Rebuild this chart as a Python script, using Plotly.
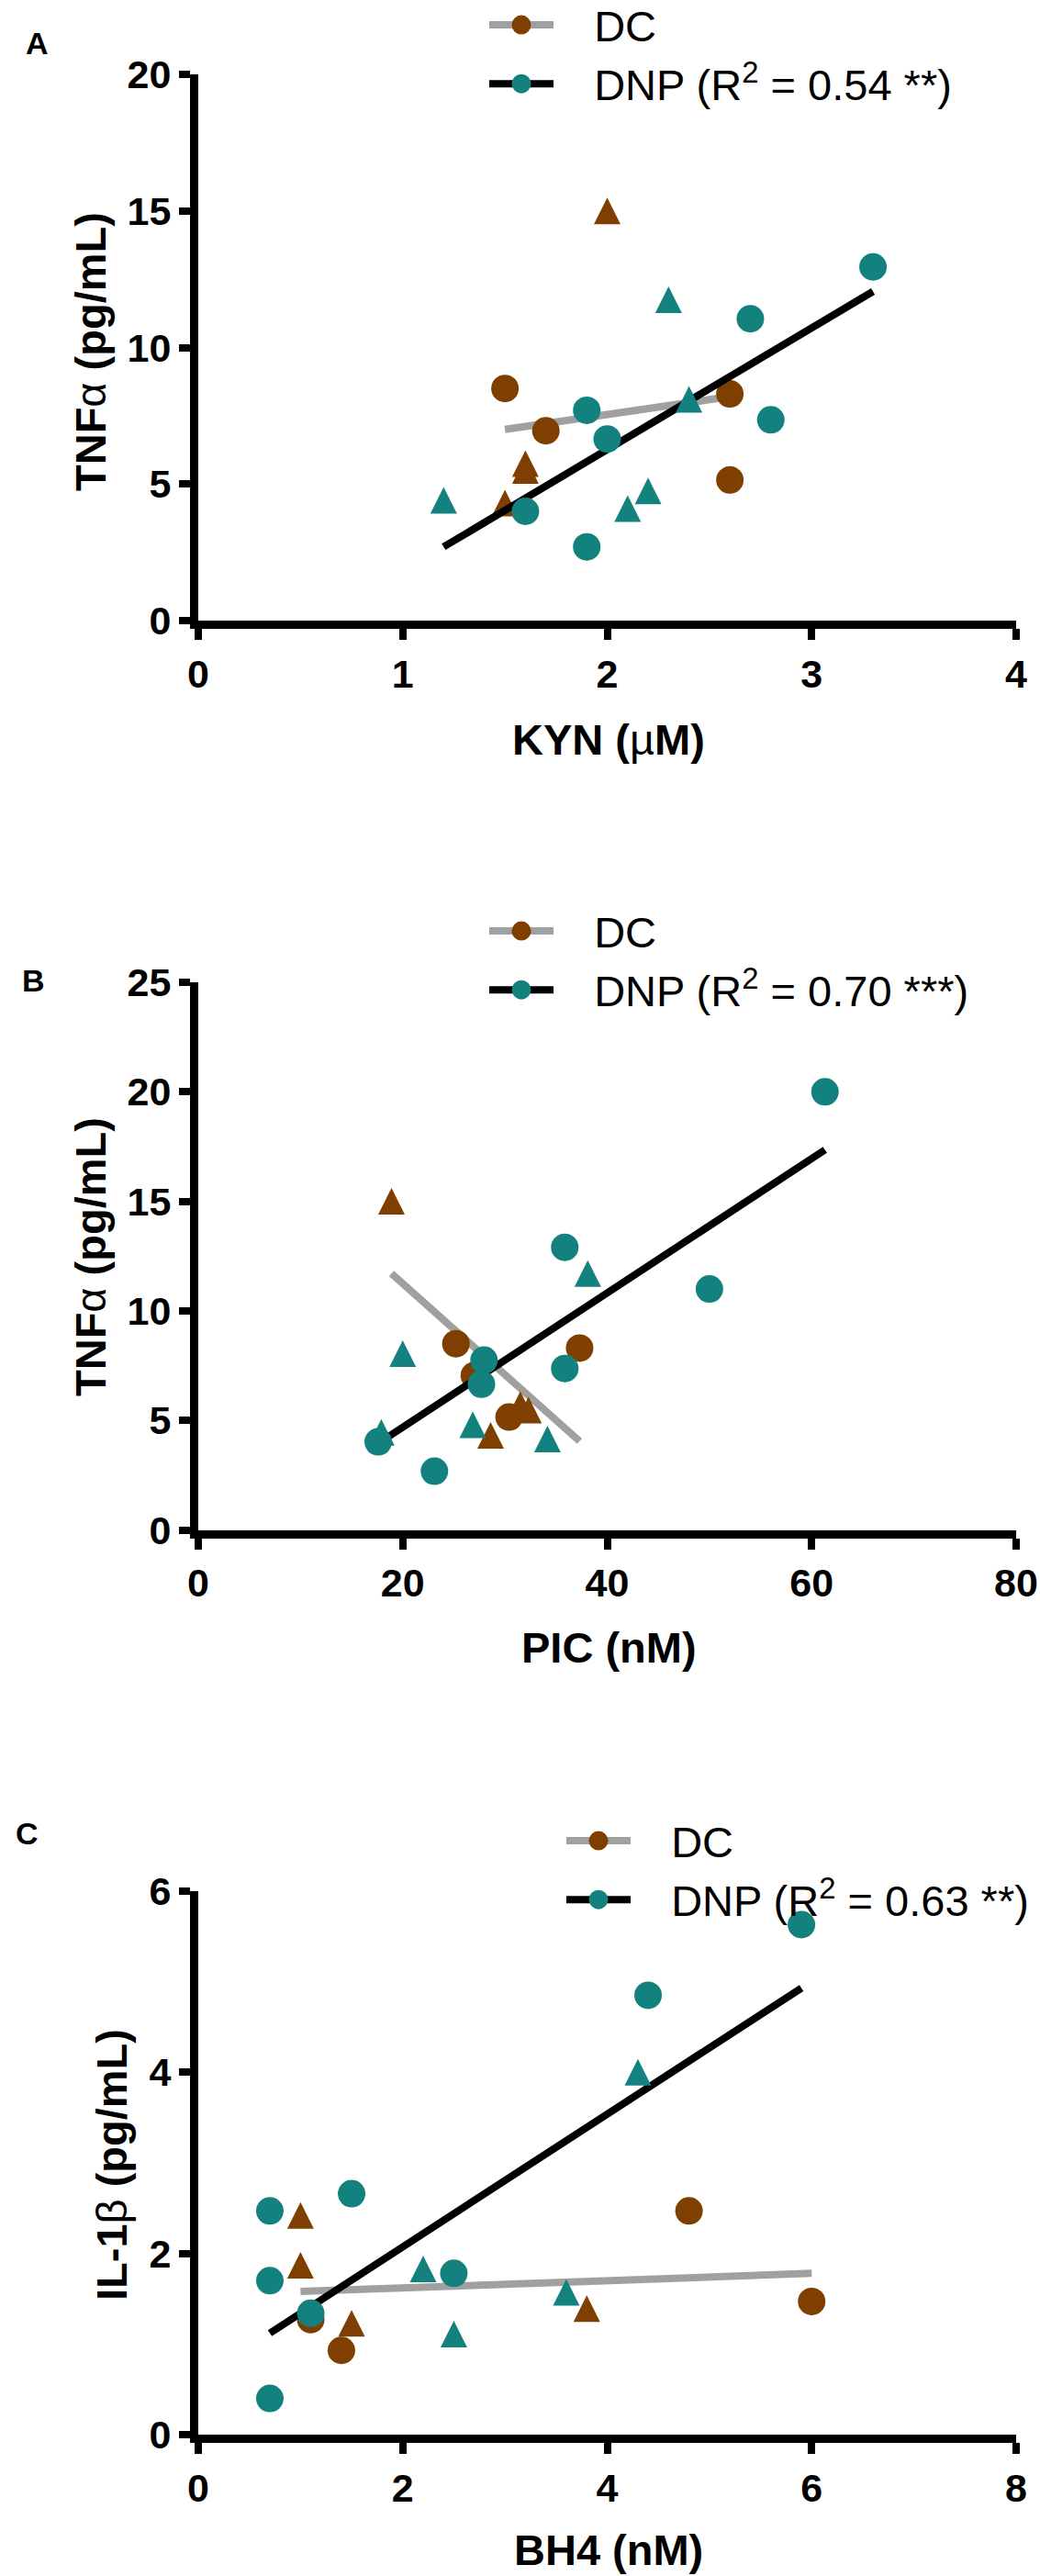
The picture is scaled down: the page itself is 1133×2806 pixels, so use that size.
import plotly.graph_objects as go

W, H = 1133, 2806

BROWN = "#7F3F00"
TEAL = "#13827F"
GREY = "#A0A0A0"
FONT = "Liberation Sans, Arial, sans-serif"

# Panel A: TNFa vs KYN
kyn_dc_circ_x = [1.5, 1.7, 2.6, 2.6]
kyn_dc_circ_y = [8.5, 6.95, 8.3, 5.15]
kyn_dc_tri_x = [2.0, 1.6, 1.6, 1.5]
kyn_dc_tri_y = [15.0, 5.75, 5.5, 4.3]
kyn_dnp_circ_x = [3.3, 2.7, 1.9, 2.0, 2.8, 1.6, 1.9]
kyn_dnp_circ_y = [12.95, 11.05, 7.7, 6.65, 7.35, 4.0, 2.7]
kyn_dnp_tri_x = [2.3, 2.4, 1.2, 2.1, 2.2]
kyn_dnp_tri_y = [11.75, 8.1, 4.4, 4.1, 4.75]
kyn_dc_fit_x = [1.5, 2.6]
kyn_dc_fit_y = [7.0, 8.2]
kyn_dnp_fit_x = [1.2, 3.3]
kyn_dnp_fit_y = [2.7, 12.05]

# Panel B: TNFa vs PIC
pic_dc_circ_x = [25.2, 27.0, 37.3, 30.4]
pic_dc_circ_y = [8.5, 7.05, 8.3, 5.15]
pic_dc_tri_x = [18.9, 31.5, 32.3, 28.6]
pic_dc_tri_y = [15.0, 5.72, 5.47, 4.32]
pic_dnp_circ_x = [61.3, 35.85, 50.0, 35.85, 27.95, 27.7, 17.6, 23.1]
pic_dnp_circ_y = [20.0, 12.9, 11.0, 7.37, 7.75, 6.65, 4.02, 2.68]
pic_dnp_tri_x = [38.1, 20.0, 26.85, 34.15, 17.9]
pic_dnp_tri_y = [11.7, 8.05, 4.8, 4.15, 4.45]
pic_dc_fit_x = [18.9, 37.3]
pic_dc_fit_y = [11.7, 4.05]
pic_dnp_fit_x = [17.6, 61.3]
pic_dnp_fit_y = [3.95, 17.35]

# Panel C: IL-1b vs BH4
bh4_dc_circ_x = [4.8, 6.0, 1.4, 1.1]
bh4_dc_circ_y = [2.47, 1.47, 0.93, 1.27]
bh4_dc_tri_x = [1.0, 1.0, 1.5, 3.8]
bh4_dc_tri_y = [2.42, 1.87, 1.23, 1.39]
bh4_dnp_circ_x = [5.9, 4.4, 1.5, 0.7, 0.7, 2.5, 1.1, 0.7]
bh4_dnp_circ_y = [5.63, 4.85, 2.66, 2.47, 1.70, 1.78, 1.34, 0.40]
bh4_dnp_tri_x = [4.3, 2.2, 3.6, 2.5]
bh4_dnp_tri_y = [4.0, 1.83, 1.57, 1.11]
bh4_dc_fit_x = [1.0, 6.0]
bh4_dc_fit_y = [1.58, 1.78]
bh4_dnp_fit_x = [0.7, 5.9]
bh4_dnp_fit_y = [1.12, 4.93]

panels = [
    dict(
        letter="A", r2="0.54 **",
        dc_circ=(kyn_dc_circ_x, kyn_dc_circ_y), dc_tri=(kyn_dc_tri_x, kyn_dc_tri_y),
        dnp_circ=(kyn_dnp_circ_x, kyn_dnp_circ_y), dnp_tri=(kyn_dnp_tri_x, kyn_dnp_tri_y),
        dc_fit=(kyn_dc_fit_x, kyn_dc_fit_y), dnp_fit=(kyn_dnp_fit_x, kyn_dnp_fit_y),
        xrange=[0, 4], xdtick=1, yrange=[0, 20], ydtick=5,
        xtitle="KYN (<span style='font-weight:normal'>µ</span>M)",
        ytitle="TNF<span style='font-weight:normal'>α</span> (pg/mL)",
        ybot=676, ytop=81, letter_pos=(40, 47), xtitle_y=805, ytitle_pos=(98, 383),
        legend_pos=(528, -10),
    ),
    dict(
        letter="B", r2="0.70 ***",
        dc_circ=(pic_dc_circ_x, pic_dc_circ_y), dc_tri=(pic_dc_tri_x, pic_dc_tri_y),
        dnp_circ=(pic_dnp_circ_x, pic_dnp_circ_y), dnp_tri=(pic_dnp_tri_x, pic_dnp_tri_y),
        dc_fit=(pic_dc_fit_x, pic_dc_fit_y), dnp_fit=(pic_dnp_fit_x, pic_dnp_fit_y),
        xrange=[0, 80], xdtick=20, yrange=[0, 25], ydtick=5,
        xtitle="PIC (nM)",
        ytitle="TNF<span style='font-weight:normal'>α</span> (pg/mL)",
        ybot=1666.5, ytop=1070, letter_pos=(36, 1068), xtitle_y=1794, ytitle_pos=(98, 1369),
        legend_pos=(528, 977),
    ),
    dict(
        letter="C", r2="0.63 **",
        dc_circ=(bh4_dc_circ_x, bh4_dc_circ_y), dc_tri=(bh4_dc_tri_x, bh4_dc_tri_y),
        dnp_circ=(bh4_dnp_circ_x, bh4_dnp_circ_y), dnp_tri=(bh4_dnp_tri_x, bh4_dnp_tri_y),
        dc_fit=(bh4_dc_fit_x, bh4_dc_fit_y), dnp_fit=(bh4_dnp_fit_x, bh4_dnp_fit_y),
        xrange=[0, 8], xdtick=2, yrange=[0, 6], ydtick=2,
        xtitle="BH4 (nM)",
        ytitle="IL-1<span style='font-weight:normal'>β</span> (pg/mL)",
        ybot=2652, ytop=2060, letter_pos=(29, 1997), xtitle_y=2777, ytitle_pos=(121, 2358),
        legend_pos=(612, 1968),
    ),
]

X_LEFT, X_RIGHT = 216, 1107
TRI = 29
CIRC = 30
GAP = "   "  # room between legend key and text


def px(v):
    return v / W


def py(v):
    return 1 - v / H


fig = go.Figure()
annotations = []

for i, p in enumerate(panels):
    n = "" if i == 0 else str(i + 1)
    xa, ya, lg = "x" + n, "y" + n, "legend" + n

    common = dict(xaxis=xa, yaxis=ya, legend=lg, hoverinfo="skip")
    tri = dict(symbol="arrow-down", angle=180, standoff=TRI / 2, size=TRI, line=dict(width=0))
    circ = dict(symbol="circle", size=CIRC, line=dict(width=0))

    fig.add_trace(go.Scatter(x=p["dc_fit"][0], y=p["dc_fit"][1], mode="lines",
                             line=dict(color=GREY, width=8), showlegend=False, **common))
    fig.add_trace(go.Scatter(x=p["dc_tri"][0], y=p["dc_tri"][1], mode="markers",
                             marker=dict(color=BROWN, **tri), showlegend=False, **common))
    fig.add_trace(go.Scatter(x=p["dc_circ"][0], y=p["dc_circ"][1], mode="markers",
                             marker=dict(color=BROWN, **circ), showlegend=False, **common))
    fig.add_trace(go.Scatter(x=p["dnp_fit"][0], y=p["dnp_fit"][1], mode="lines",
                             line=dict(color="black", width=8), showlegend=False, **common))
    fig.add_trace(go.Scatter(x=p["dnp_tri"][0], y=p["dnp_tri"][1], mode="markers",
                             marker=dict(color=TEAL, **tri), showlegend=False, **common))
    fig.add_trace(go.Scatter(x=p["dnp_circ"][0], y=p["dnp_circ"][1], mode="markers",
                             marker=dict(color=TEAL, **circ), showlegend=False, **common))

    # legend keys (line + circle)
    fig.add_trace(go.Scatter(x=[None], y=[None], mode="lines+markers", name=GAP + "DC",
                             line=dict(color=GREY, width=8),
                             marker=dict(color=BROWN, size=16, line=dict(color=BROWN, width=5)),
                             **common))
    fig.add_trace(go.Scatter(x=[None], y=[None], mode="lines+markers",
                             name=GAP + "DNP (R<sup>2</sup> = " + p["r2"] + ")",
                             line=dict(color="black", width=8),
                             marker=dict(color=TEAL, size=16, line=dict(color=TEAL, width=5)),
                             **common))

    axis_common = dict(
        showline=True, linewidth=9, linecolor="black", mirror=False,
        ticks="outside", ticklen=12, tickwidth=8, tickcolor="black",
        showgrid=False, zeroline=False, ticklabeloverflow="allow",
        tickfont=dict(family=FONT, size=43, color="black", weight="bold"),
        fixedrange=True,
    )
    fig.update_layout(**{
        "xaxis" + n: dict(domain=[px(X_LEFT), px(X_RIGHT)], range=p["xrange"],
                          dtick=p["xdtick"], tick0=0, anchor=ya, **axis_common),
        "yaxis" + n: dict(domain=[py(p["ybot"]), py(p["ytop"])], range=p["yrange"],
                          dtick=p["ydtick"], tick0=0, anchor=xa, **axis_common),
        lg: dict(x=px(p["legend_pos"][0]), y=py(p["legend_pos"][1]),
                 xanchor="left", yanchor="top", itemwidth=70,
                 font=dict(family=FONT, size=47, color="black"),
                 bgcolor="rgba(0,0,0,0)", traceorder="normal"),
    })

    annotations += [
        dict(text="<b>" + p["letter"] + "</b>", x=px(p["letter_pos"][0]), y=py(p["letter_pos"][1]),
             font=dict(family=FONT, size=34, color="black")),
        dict(text="<b>" + p["xtitle"] + "</b>", x=px(663), y=py(p["xtitle_y"]),
             font=dict(family=FONT, size=47, color="black")),
        dict(text="<b>" + p["ytitle"] + "</b>", x=px(p["ytitle_pos"][0]), y=py(p["ytitle_pos"][1]),
             textangle=-90, font=dict(family=FONT, size=47, color="black")),
    ]

for a in annotations:
    a.update(xref="paper", yref="paper", xanchor="center", yanchor="middle", showarrow=False)

fig.update_layout(
    width=W, height=H,
    margin=dict(l=0, r=0, t=0, b=0, autoexpand=False),
    paper_bgcolor="white", plot_bgcolor="white",
    annotations=annotations,
)

# drop the default page margin so the figure fills the window exactly
fig.write_html("out.html", config=dict(displayModeBar=False),
               post_script="document.body.style.margin='0';")
